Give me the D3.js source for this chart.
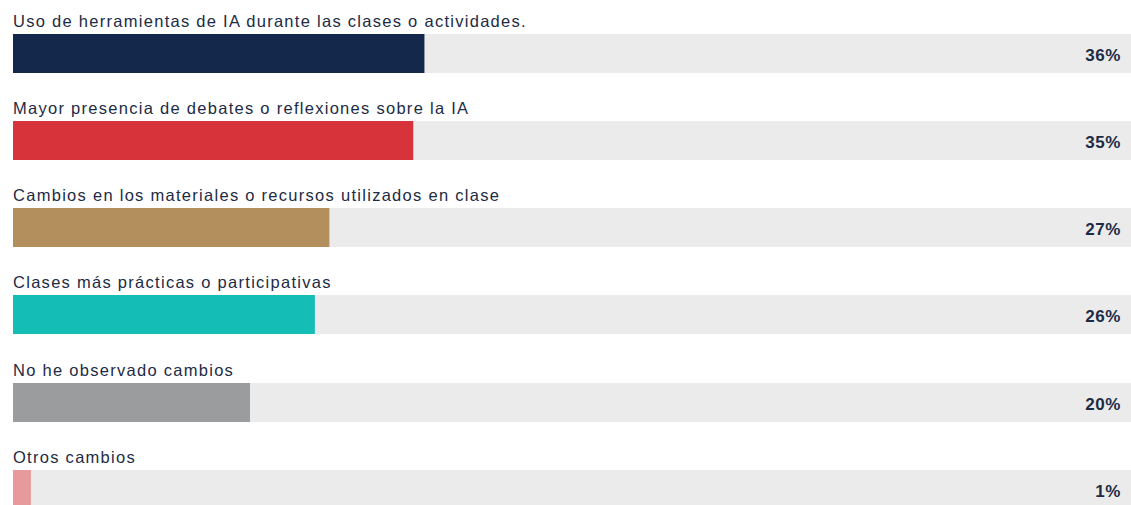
<!DOCTYPE html>
<html><head><meta charset="utf-8">
<script src="https://cdn.jsdelivr.net/npm/d3@7"></script>
<style>html,body{margin:0;padding:0;background:#fff;overflow:hidden}</style>
</head><body>
<svg id="chart" width="1131" height="505"></svg>
<script>
const categories = [
  "Uso de herramientas de IA durante las clases o actividades.",
  "Mayor presencia de debates o reflexiones sobre la IA",
  "Cambios en los materiales o recursos utilizados en clase",
  "Clases más prácticas o participativas",
  "No he observado cambios",
  "Otros cambios"
];
const values = [36.8, 35.8, 28.3, 27.0, 21.2, 1.6];
const valueLabels = ["36%", "35%", "27%", "26%", "20%", "1%"];
const colors = ["#14284b", "#d7333b", "#b38f5e", "#14bdb6", "#9b9c9e", "#e8999c"];

const svg = d3.select("#chart");
const left = 13, right = 1131;
const x = d3.scaleLinear().domain([0, 100]).range([left, right]);
const y = d3.scaleBand().domain(categories).range([33.5, 33.5 + 87.3 * 6]).paddingInner(0).paddingOuter(0);
const barH = 39;

const g = svg.selectAll("g.row").data(categories).join("g").attr("class", "row")
  .attr("transform", d => `translate(0,${Math.round(y(d))})`);

g.append("rect").attr("x", x(0)).attr("y", 0).attr("width", x(100) - x(0)).attr("height", barH).attr("fill", "#ebebeb");
g.append("rect").attr("x", x(0)).attr("y", 0)
  .attr("width", (d, i) => x(values[i]) - x(0)).attr("height", barH)
  .attr("fill", (d, i) => colors[i]);
g.append("text").attr("x", left).attr("y", -7.5)
  .style("font-family", "'Liberation Sans', Arial, sans-serif").style("font-size", "16.5px")
  .style("letter-spacing", "1.28px").attr("fill", "#1d2b45").text(d => d);
g.append("text").attr("x", 1121).attr("y", 27).attr("text-anchor", "end")
  .style("font-family", "'Liberation Sans', Arial, sans-serif").style("font-size", "17px").style("font-weight", "bold")
  .style("letter-spacing", "0.6px").attr("fill", "#1d2b45").text((d, i) => valueLabels[i]);
</script>
</body></html>
